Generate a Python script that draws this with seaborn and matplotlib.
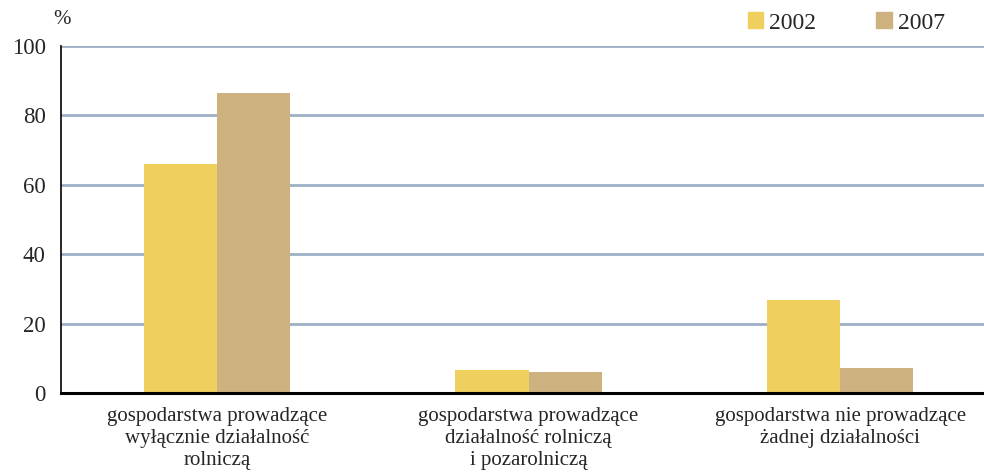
import matplotlib
matplotlib.use("Agg")
import matplotlib.pyplot as plt
import seaborn as sns
import pandas as pd

categories = [
    "gospodarstwa prowadzące\nwyłącznie działalność\nrolniczą",
    "gospodarstwa prowadzące\ndziałalność rolniczą\ni pozarolniczą",
    "gospodarstwa nie prowadzące\nżadnej działalności",
]
years = ["2002", "2007"]
values_2002 = [66.0, 6.6, 26.8]
values_2007 = [86.5, 6.1, 7.2]
colors = ["#EFCF5E", "#CDB280"]

df = pd.DataFrame({
    "category": categories * 2,
    "year": [years[0]] * 3 + [years[1]] * 3,
    "value": values_2002 + values_2007,
})

sns.set_style("white")
plt.rcParams["font.family"] = ["Liberation Serif", "DejaVu Serif"]

fig = plt.figure(figsize=(9.84, 4.72), dpi=100)
ax = fig.add_axes([61 / 984, 79 / 472, 935 / 984, 347 / 472])

sns.barplot(data=df, x="category", y="value", hue="year", palette=colors,
            width=0.47, saturation=1, linewidth=0, ax=ax, legend=False)

ax.set_ylim(0, 100)
ax.set_yticks([0, 20, 40, 60, 80, 100])
ax.yaxis.grid(True, color="#9DB0C6", linewidth=2)
ax.set_axisbelow(True)
ax.set_xlabel("")
ax.set_ylabel("")
for s in ["top", "right"]:
    ax.spines[s].set_visible(False)
ax.spines["left"].set_color("black")
ax.spines["left"].set_linewidth(1.2)
ax.spines["bottom"].set_color("black")
ax.spines["bottom"].set_linewidth(2.2)
ax.spines["bottom"].set_zorder(5)
ax.tick_params(axis="y", length=0, pad=11, labelsize=16.5)
ax.tick_params(axis="x", length=0, pad=10, labelsize=15)
for lab in ax.get_xticklabels():
    lab.set_linespacing(1.22)

fig.text(62 / 984, 1 - 20 / 472, "%", fontsize=15, ha="center", va="center")

handles = [plt.Rectangle((0, 0), 1, 1, color=c) for c in colors]
fig.legend(handles, years, loc="center left", bbox_to_anchor=(748 / 984, 1 - 23 / 472),
           ncol=2, frameon=False, fontsize=17, handlelength=0.65, handleheight=0.65,
           handletextpad=0.25, columnspacing=2.55, borderpad=0, borderaxespad=0)

fig.savefig("out.png", dpi=100)
